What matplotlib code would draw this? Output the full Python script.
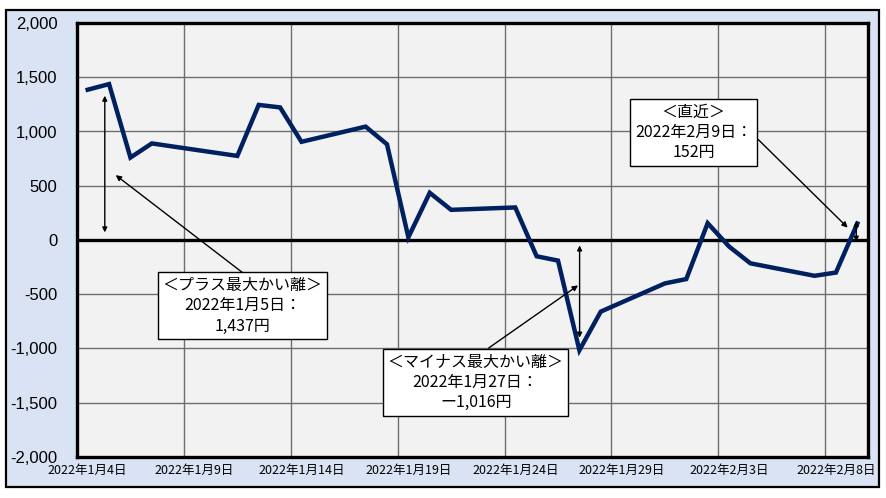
import matplotlib
matplotlib.use("Agg")
import matplotlib.pyplot as plt
import matplotlib.dates as mdates
from matplotlib.patches import Rectangle
import pandas as pd

plt.rcParams['font.family'] = ['Noto Sans CJK JP', 'DejaVu Sans']

# ---- data ----
dates = ["2022-01-04", "2022-01-05", "2022-01-06", "2022-01-07", "2022-01-11",
         "2022-01-12", "2022-01-13", "2022-01-14", "2022-01-17", "2022-01-18",
         "2022-01-19", "2022-01-20", "2022-01-21", "2022-01-24", "2022-01-25",
         "2022-01-26", "2022-01-27", "2022-01-28", "2022-01-31", "2022-02-01",
         "2022-02-02", "2022-02-03", "2022-02-04", "2022-02-07", "2022-02-08",
         "2022-02-09"]
values = [1385, 1437, 760, 890, 775,
          1245, 1222, 905, 1045, 882,
          25, 435, 278, 300, -150,
          -190, -1016, -660, -400, -360,
          155, -60, -215, -330, -300,
          152]
tick_dates = ["2022-01-04", "2022-01-09", "2022-01-14", "2022-01-19",
              "2022-01-24", "2022-01-29", "2022-02-03", "2022-02-08"]
tick_labels = ["2022年1月4日", "2022年1月9日", "2022年1月14日", "2022年1月19日",
               "2022年1月24日", "2022年1月29日", "2022年2月3日", "2022年2月8日"]
y_ticks = [-2000, -1500, -1000, -500, 0, 500, 1000, 1500, 2000]
y_labels = ["-2,000", "-1,500", "-1,000", "-500", "0", "500", "1,000", "1,500", "2,000"]

ann_plus = "＜プラス最大かい離＞\n2022年1月5日：\n1,437円"
ann_minus = "＜マイナス最大かい離＞\n2022年1月27日：\nー1,016円"
ann_recent = "＜直近＞\n2022年2月9日：\n152円"

# ---- figure ----
W, H = 886, 498
fig = plt.figure(figsize=(W / 100, H / 100), dpi=100)
fig.patch.set_facecolor('white')
fig.add_artist(Rectangle((6 / W, 1 - 487 / H), (879 - 6) / W, (487 - 10) / H,
                         transform=fig.transFigure, facecolor='#DAE3F3',
                         edgecolor='black', lw=1.6, zorder=-5))

ax = fig.add_axes([77 / W, 1 - 457 / H, (868 - 77) / W, (457 - 23) / H])
ax.set_facecolor('#F2F2F2')

half = pd.Timedelta(hours=12)
x = pd.to_datetime(dates) + half
ax.plot(x, values, color='#002060', lw=3.2, solid_joinstyle='miter', zorder=4)

t0 = pd.Timestamp("2022-01-04")
ax.set_xlim(t0, pd.Timestamp("2022-02-10"))
ax.set_ylim(-2000, 2000)

tk = pd.to_datetime(tick_dates)
ax.set_xticks(tk)
ax.set_xticklabels([])
ax.set_xticks(tk + half, minor=True)
ax.set_xticklabels(tick_labels, minor=True, fontsize=9)
ax.tick_params(axis='x', which='both', length=0)
ax.tick_params(axis='x', which='minor', pad=5)

ax.set_yticks(y_ticks)
ax.set_yticklabels(y_labels, family=['Liberation Sans', 'DejaVu Sans'], fontsize=12)
ax.tick_params(axis='y', length=0, pad=14)

ax.grid(which='major', color='#6e6e6e', lw=1.0, zorder=1)
ax.set_axisbelow(True)
ax.axhline(0, color='black', lw=2.4, zorder=3)
for s in ax.spines.values():
    s.set_linewidth(2.4)
    s.set_color('black')


def d(days):
    return t0 + pd.Timedelta(days=days)


arr = dict(arrowstyle='-|>', color='black', lw=1.0, mutation_scale=8,
           shrinkA=0, shrinkB=0)
dbl = dict(arrowstyle='<|-|>', color='black', lw=1.0, mutation_scale=7,
           shrinkA=0, shrinkB=0)
box = dict(boxstyle='square,pad=0.3', facecolor='white', edgecolor='black', lw=1.0)
tfont = dict(fontsize=11.5, ha='center', va='center', linespacing=1.25, zorder=6)

# plus annotation
ax.annotate('', xy=(d(1.30), 1330), xytext=(d(1.30), 70), arrowprops=dbl, zorder=5)
ax.annotate('', xy=(d(1.81), 598), xytext=(d(7.74), -300), arrowprops=arr, zorder=5)
ax.text(d(7.74), -607, ann_plus, bbox=box, **tfont)

# minus annotation
ax.annotate('', xy=(d(23.51), -50), xytext=(d(23.51), -900), arrowprops=dbl, zorder=5)
ax.annotate('', xy=(d(23.44), -418), xytext=(d(19.26), -995), arrowprops=arr, zorder=5)
ax.text(d(18.65), -1315, ann_minus, bbox=box, **tfont)

# recent annotation
ax.annotate('', xy=(d(36.45), 175), xytext=(d(36.45), -15), arrowprops=dbl, zorder=5)
ax.annotate('', xy=(d(36.05), 114), xytext=(d(31.86), 927), arrowprops=arr, zorder=5)
ax.text(d(28.84), 990, ann_recent, bbox=box, **tfont)

fig.savefig('out.png', dpi=100)
